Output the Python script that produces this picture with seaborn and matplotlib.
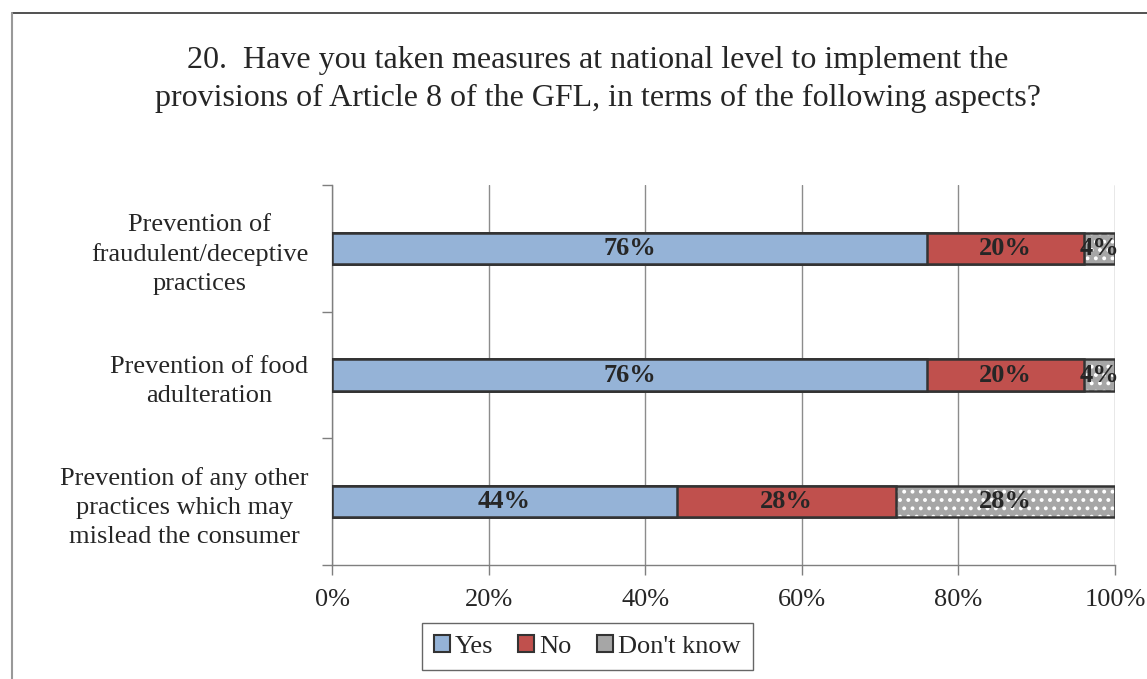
import matplotlib
matplotlib.use("Agg")
import matplotlib.pyplot as plt
from matplotlib.patches import Patch
from matplotlib.lines import Line2D
import seaborn as sns
import pandas as pd
import numpy as np

categories = [
    "Prevention of\nfraudulent/deceptive\npractices",
    "Prevention of food\nadulteration",
    "Prevention of any other\npractices which may\nmislead the consumer",
]
yes = [76, 76, 44]
no = [20, 20, 28]
dont_know = [4, 4, 28]
series_names = ["Yes", "No", "Don't know"]
x_ticks = [0, 20, 40, 60, 80, 100]
title = ("20.  Have you taken measures at national level to implement the\n"
         "provisions of Article 8 of the GFL, in terms of the following aspects?")

sns.set_theme(style="white")
plt.rcParams["font.family"] = ["Liberation Serif", "DejaVu Serif"]
plt.rcParams["hatch.linewidth"] = 1.6

C_YES = "#95B3D7"
C_NO = "#C0504D"
C_DK = "#A6A6A6"
EDGE = "#333333"
TXT = "#262626"
FS = 19

df = pd.DataFrame({"category": categories, "Yes": yes, "No": no, "Don't know": dont_know})
df["cum_yes"] = df["Yes"]
df["cum_no"] = df["Yes"] + df["No"]
df["cum_dk"] = df["Yes"] + df["No"] + df["Don't know"]

fig = plt.figure(figsize=(11.47, 6.79), dpi=100)
ax = fig.add_axes([0.2895, 0.1679, 0.6826, 0.5596])

bw = 0.245
# Dotted "Don't know" fill (white dots on grey)
sns.barplot(data=df, x="cum_dk", y="category", orient="h", color=C_DK, saturation=1,
            width=bw, ax=ax, edgecolor="white", linewidth=0, hatch="..", zorder=3)
# Outline of the full stacked bar
sns.barplot(data=df, x="cum_dk", y="category", orient="h", fill=False, color=EDGE,
            width=bw, ax=ax, linewidth=1.8, zorder=4)
sns.barplot(data=df, x="cum_no", y="category", orient="h", color=C_NO, saturation=1,
            width=bw, ax=ax, edgecolor=EDGE, linewidth=1.8, zorder=5)
sns.barplot(data=df, x="cum_yes", y="category", orient="h", color=C_YES, saturation=1,
            width=bw, ax=ax, edgecolor=EDGE, linewidth=1.8, zorder=6)

# Segment value labels
for i, row in df.iterrows():
    starts = [0, row["cum_yes"], row["cum_no"]]
    vals = [row["Yes"], row["No"], row["Don't know"]]
    for s, v in zip(starts, vals):
        ax.text(s + v / 2, i, f"{v}%", ha="center", va="center", fontsize=FS,
                fontweight="bold", color=TXT, zorder=8)

ax.set_xlim(0, 100)
ax.set_ylim(2.5, -0.5)
ax.set_xticks(x_ticks)
ax.set_xticklabels([f"{t}%" for t in x_ticks])
ax.set_yticks([0, 1, 2])
ax.set_yticklabels(categories, ha="right", multialignment="center", linespacing=1.42)
ax.set_xlabel("")
ax.set_ylabel("")

# y tick marks at category boundaries
ax.set_yticks([-0.5, 0.5, 1.5, 2.5], minor=True)
ax.tick_params(axis="y", which="major", length=0, pad=17, labelsize=FS, labelcolor=TXT)
ax.tick_params(axis="y", which="minor", length=7, width=1, color="#7f7f7f", left=True)
ax.tick_params(axis="x", length=7, width=1, color="#7f7f7f", bottom=True, pad=10,
               labelsize=FS, labelcolor=TXT)

ax.grid(axis="x", color="#8c8c8c", linewidth=1, zorder=0)
ax.set_axisbelow(True)
for side in ["top", "right"]:
    ax.spines[side].set_visible(False)
for side in ["left", "bottom"]:
    ax.spines[side].set_color("#7f7f7f")
    ax.spines[side].set_linewidth(1)

fig.text(0.521, 0.883, title, ha="center", va="center", fontsize=23, color=TXT,
         linespacing=1.42)

handles = [
    Patch(facecolor=C_YES, edgecolor=EDGE, linewidth=1.5, label=series_names[0]),
    Patch(facecolor=C_NO, edgecolor=EDGE, linewidth=1.5, label=series_names[1]),
    Patch(facecolor=C_DK, edgecolor=EDGE, linewidth=1.5, label=series_names[2]),
]
leg = fig.legend(handles=handles, loc="center", bbox_to_anchor=(0.512, 0.048), ncol=3,
                 frameon=True, fancybox=False, fontsize=FS, handlelength=0.6,
                 handleheight=0.6, handletextpad=0.2, columnspacing=0.95,
                 borderpad=0.45, edgecolor="#404040")
leg.get_frame().set_linewidth(1)
for t in leg.get_texts():
    t.set_color(TXT)

# Chart frame (top and left edges)
fig.add_artist(Line2D([0.0105, 1.0], [0.981, 0.981], transform=fig.transFigure,
                      color="#333333", linewidth=1.2))
fig.add_artist(Line2D([0.0105, 0.0105], [0.0, 0.981], transform=fig.transFigure,
                      color="#999999", linewidth=1.5))

fig.savefig("out.png", dpi=100, facecolor="white")
